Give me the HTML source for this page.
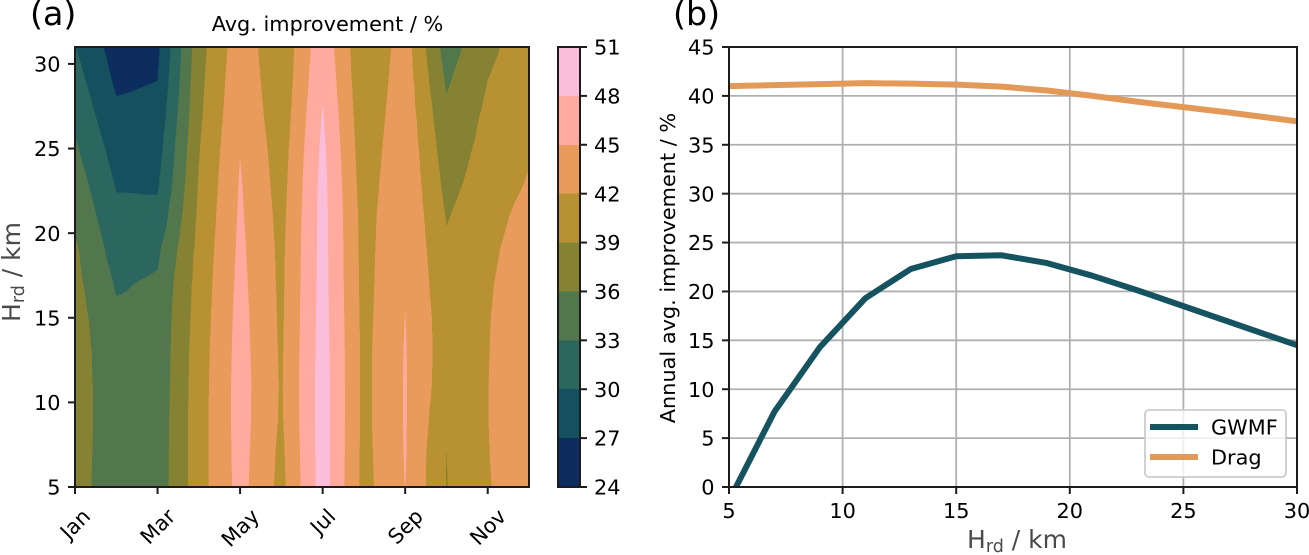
<!DOCTYPE html>
<html lang="en">
<head>
<meta charset="utf-8">
<title>Avg. improvement contour and annual improvement lines</title>
<style>
html,body{margin:0;padding:0;background:#fff;}
svg{display:block;}
text{font-family:"DejaVu Sans","Liberation Sans",sans-serif;fill:#000;}
</style>
</head>
<body>
<svg id="fig" xmlns="http://www.w3.org/2000/svg" width="1309" height="555" viewBox="0 0 1309 555">
  <defs>
    <clipPath id="plot-b-clip"><rect x="729" y="47" width="568" height="440"></rect></clipPath>
  </defs>
  <text x="30" y="25" font-size="33.3">(a)</text>
  <text x="673" y="25" font-size="33.3">(b)</text>
  <text x="327.5" y="31" font-size="20.83" text-anchor="middle">Avg. improvement / %</text>
  <g id="contours"></g>
  <g id="axes-a"></g>
  <g id="colorbar"></g>
  <g id="axes-b"></g>
  <text transform="translate(20 272) rotate(-90)" font-size="25" text-anchor="middle" style="fill:#4a4a4a">H<tspan dy="4" font-size="17.5">rd</tspan><tspan dy="-4"> / km</tspan></text>
  <text transform="translate(675 268) rotate(-90)" font-size="20.83" text-anchor="middle">Annual avg. improvement / %</text>
  <text x="1017" y="548" font-size="25" text-anchor="middle" style="fill:#4a4a4a">H<tspan dy="4" font-size="17.5">rd</tspan><tspan dy="-4"> / km</tspan></text>
  <g>
    <rect x="1145" y="410" width="141" height="67" rx="4" fill="#fff" fill-opacity="0.8" stroke="#ccc" stroke-width="1.8"></rect>
    <line x1="1150" x2="1198" y1="427" y2="427" stroke="#165360" stroke-width="6"></line>
    <text x="1211" y="434.5" font-size="20.83">GWMF</text>
    <line x1="1150" x2="1198" y1="457" y2="457" stroke="#e39a58" stroke-width="6"></line>
    <text x="1211" y="464.5" font-size="20.83">Drag</text>
  </g>
</svg>
<script>
// Panel (a): values per month, one entry per altitude in altitudes
const altitudes = [5,7,9,11,13,15,17,19,21,23,25,27,29,31];
const monthNames = ['Jan','Feb','Mar','Apr','May','Jun','Jul','Aug','Sep','Oct','Nov','Dec'];
const janValues = [37.1,37.2,37.3,37.4,37.4,37.2,36.8,36.4,35.5,34.5,33.4,32.3,31.2,30.1];
const febValues = [34.3,34.3,34.3,34.1,33.9,33.5,32.7,31.7,30.7,29.7,28.7,27.6,26.5,25.6];
const marValues = [34.2,34.2,34.1,34.0,33.9,33.75,33.4,32.4,30.75,29.55,28.75,27.85,27.0,26.3];
const aprValues = [40.7,40.7,40.7,40.6,40.5,40.3,40.1,39.85,39.5,39.15,38.8,38.4,38.1,37.8];
const mayValues = [46,46.1,46.2,46.2,46.1,46,45.8,45.6,45.4,45.2,44.9,44.5,44.15,43.8];
const junValues = [41.1,41.3,41.6,41.7,41.6,41.5,41.4,41.3,41.1,40.8,40.5,40.1,39.8,39.6];
const julValues = [49.4,49.4,49.4,49.4,49.3,49.2,49.1,49.05,49,48.9,48.6,48.15,47.6,47.1];
const augValues = [41,41.1,41.2,41.2,41.2,41.1,41,40.9,40.8,40.5,40.2,39.9,39.6,39.4];
const sepValues = [45.02,45.15,45.2,45.2,45.15,45.02,44.9,44.8,44.65,44.45,44.2,43.9,43.6,43.3];
const octValues = [38.9,38.95,39.6,40.2,40.4,40.3,39.9,39.4,38.8,38.1,37.4,36.6,35.6,34.6];
const novValues = [41.8,41.9,41.95,41.95,41.9,41.85,41.7,41.4,40.9,40.3,39.95,39.55,39,38.2];
const decValues = [43.8,43.9,44,44,43.9,43.8,43.6,43.4,43,42.2,41.7,41.45,41.2,40.9];
const levels = [24,27,30,33,36,39,42,45,48,51];
const bandColors = ['#0c2d5e','#15505f','#2b675f','#52774c','#868234','#b89133','#e99b5c','#ffaa9e','#fbbeda'];
const monthTickIndex = [0,2,4,6,8,10];
const altitudeTicks = [5,10,15,20,25,30];

// Panel (b): annual average improvement vs. Hrd
const hrdValues = [5,7,9,11,13,15,17,19,21,23,25,27,30];
const gwmfValues = [-1.4,7.7,14.3,19.3,22.3,23.6,23.7,22.9,21.6,20.1,18.5,16.9,14.5];
const dragValues = [41,41.1,41.2,41.3,41.25,41.15,40.95,40.55,40,39.4,38.85,38.3,37.4];
const hrdTicks = [5,10,15,20,25,30];
const improvementTicks = [0,5,10,15,20,25,30,35,40,45];

const NS = 'http://www.w3.org/2000/svg';
function make(tag, attrs, parent, txt) {
  const n = document.createElementNS(NS, tag);
  for (const k in attrs) n.setAttribute(k, attrs[k]);
  if (txt !== undefined) n.textContent = txt;
  parent.appendChild(n);
  return n;
}

const A = {l:75, r:529, t:47, b:487};
const B = {l:729, r:1297, t:47, b:487};
const CB = {l:558, r:580, t:47, b:487};
const ink = '#1c1c1c';
const tickFont = 20.83;

const xMonth = i => A.l + i * (A.r - A.l) / (monthNames.length - 1);
const yAlt = v => A.b - (v - 5) * (A.b - A.t) / (31 - 5);
const xHrd = v => B.l + (v - 5) * (B.r - B.l) / (30 - 5);
const yImp = v => B.b - v * (B.b - B.t) / 45;
const yLevel = v => CB.b - (v - levels[0]) * (CB.b - CB.t) / (levels[levels.length - 1] - levels[0]);

// ---------- filled contours: clip grid triangles to each level band ----------
const monthSeries = [janValues,febValues,marValues,aprValues,mayValues,junValues,julValues,augValues,sepValues,octValues,novValues,decValues];

function clip(poly, level, keepAbove) {
  const out = [];
  for (let i = 0; i < poly.length; i++) {
    const p = poly[i], q = poly[(i + 1) % poly.length];
    const pIn = keepAbove ? p[2] >= level : p[2] <= level;
    const qIn = keepAbove ? q[2] >= level : q[2] <= level;
    if (pIn) out.push(p);
    if (pIn !== qIn) {
      const f = (level - p[2]) / (q[2] - p[2]);
      out.push([p[0] + f * (q[0] - p[0]), p[1] + f * (q[1] - p[1]), level]);
    }
  }
  return out;
}

const bandPaths = bandColors.map(() => []);
for (let c = 0; c < monthSeries.length - 1; c++) {
  for (let r = 0; r < altitudes.length - 1; r++) {
    const x0 = xMonth(c), x1 = xMonth(c + 1), y0 = yAlt(altitudes[r]), y1 = yAlt(altitudes[r + 1]);
    const a = [x0, y0, monthSeries[c][r]];
    const b = [x1, y0, monthSeries[c + 1][r]];
    const d = [x1, y1, monthSeries[c + 1][r + 1]];
    const e = [x0, y1, monthSeries[c][r + 1]];
    const m = [(x0 + x1) / 2, (y0 + y1) / 2, (a[2] + b[2] + d[2] + e[2]) / 4];
    [[a,b,m],[b,d,m],[d,e,m],[e,a,m]].forEach(tri => {
      bandColors.forEach((_, i) => {
        let poly = clip(tri, levels[i], true);
        if (poly.length > 2) poly = clip(poly, levels[i + 1], false);
        if (poly.length > 2) {
          bandPaths[i].push('M' + poly.map(p => p[0].toFixed(2) + ' ' + p[1].toFixed(2)).join('L') + 'Z');
        }
      });
    });
  }
}
const contourGroup = document.getElementById('contours');
bandColors.forEach((color, i) => {
  const band = make('path', {d: bandPaths[i].join(''), fill: color, stroke: color, 'stroke-width': 0.4, 'shape-rendering': 'crispEdges'}, contourGroup);
  
  
});

// ---------- panel (a) axes ----------
const axesA = document.getElementById('axes-a');
const frameA = make('rect', {x: A.l, y: A.t, width: A.r - A.l, height: A.b - A.t, fill: 'none', stroke: ink, 'stroke-width': 2}, axesA);


altitudeTicks.forEach(v => {
  const y = yAlt(v);
  const tick = make('line', {x1: A.l - 7, x2: A.l, y1: y, y2: y, stroke: ink, 'stroke-width': 2}, axesA);
  
  
  const label = make('text', {x: A.l - 14.5, y: y + 7.6, 'font-size': tickFont, 'text-anchor': 'end'}, axesA, String(v));
  
  
});
monthTickIndex.forEach(i => {
  const x = xMonth(i);
  const tick = make('line', {x1: x, x2: x, y1: A.b, y2: A.b + 7, stroke: ink, 'stroke-width': 2}, axesA);
  
  
  const label = make('text', {x: x, y: 0, 'font-size': tickFont, 'text-anchor': 'middle'}, axesA, monthNames[i]);
  
  
  const w = label.getComputedTextLength();
  const cy = 505 + (w + 21) * 0.3535;
  label.setAttribute('y', cy + 7.5);
  label.setAttribute('transform', 'rotate(-45 ' + x + ' ' + cy + ')');
});

// ---------- colorbar ----------
const cbar = document.getElementById('colorbar');
bandColors.forEach((color, i) => {
  const seg = make('rect', {x: CB.l, y: yLevel(levels[i + 1]), width: CB.r - CB.l, height: yLevel(levels[i]) - yLevel(levels[i + 1]), fill: color, 'shape-rendering': 'crispEdges'}, cbar);
  
  
});
const cbFrame = make('rect', {x: CB.l, y: CB.t, width: CB.r - CB.l, height: CB.b - CB.t, fill: 'none', stroke: ink, 'stroke-width': 2}, cbar);


levels.forEach(v => {
  const y = yLevel(v);
  const tick = make('line', {x1: CB.r, x2: CB.r + 7, y1: y, y2: y, stroke: ink, 'stroke-width': 2}, cbar);
  
  
  const label = make('text', {x: CB.r + 14, y: y + 7.6, 'font-size': tickFont}, cbar, String(v));
  
  
});

// ---------- panel (b) ----------
const axesB = document.getElementById('axes-b');
hrdTicks.forEach(v => {
  const x = xHrd(v);
  const grid = make('line', {x1: x, x2: x, y1: B.t, y2: B.b, stroke: '#b0b0b0', 'stroke-width': 1.8}, axesB);
  
  
});
improvementTicks.forEach(v => {
  const y = yImp(v);
  const grid = make('line', {x1: B.l, x2: B.r, y1: y, y2: y, stroke: '#b0b0b0', 'stroke-width': 1.8}, axesB);
  
  
});
const gwmfPoints = hrdValues.map((h, i) => xHrd(h).toFixed(2) + ',' + yImp(gwmfValues[i]).toFixed(2)).join(' ');
const dragPoints = hrdValues.map((h, i) => xHrd(h).toFixed(2) + ',' + yImp(dragValues[i]).toFixed(2)).join(' ');
const gwmfLine = make('polyline', {points: gwmfPoints, fill: 'none', stroke: '#165360', 'stroke-width': 6, 'stroke-linejoin': 'round', 'clip-path': 'url(#plot-b-clip)'}, axesB);


const dragLine = make('polyline', {points: dragPoints, fill: 'none', stroke: '#e39a58', 'stroke-width': 6, 'stroke-linejoin': 'round', 'clip-path': 'url(#plot-b-clip)'}, axesB);


const frameB = make('rect', {x: B.l, y: B.t, width: B.r - B.l, height: B.b - B.t, fill: 'none', stroke: ink, 'stroke-width': 2}, axesB);


hrdTicks.forEach(v => {
  const x = xHrd(v);
  const tick = make('line', {x1: x, x2: x, y1: B.b, y2: B.b + 7, stroke: ink, 'stroke-width': 2}, axesB);
  
  
  const label = make('text', {x: x, y: 518, 'font-size': tickFont, 'text-anchor': 'middle'}, axesB, String(v));
  
  
});
improvementTicks.forEach(v => {
  const y = yImp(v);
  const tick = make('line', {x1: B.l - 7, x2: B.l, y1: y, y2: y, stroke: ink, 'stroke-width': 2}, axesB);
  
  
  const label = make('text', {x: B.l - 14.5, y: y + 7.6, 'font-size': tickFont, 'text-anchor': 'end'}, axesB, String(v));
  
  
});
</script>
</body>
</html>
